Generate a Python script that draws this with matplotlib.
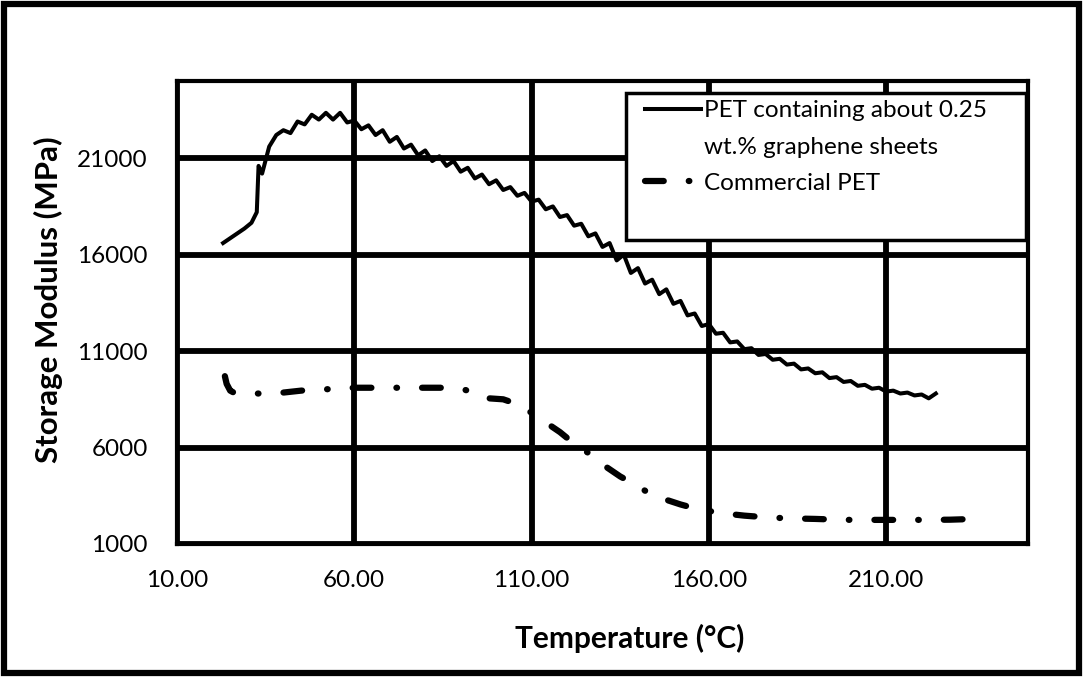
import matplotlib.pyplot as plt
from matplotlib.patches import Rectangle

plt.rcParams['font.family'] = ['Lato', 'DejaVu Sans']

# PET containing about 0.25 wt.% graphene sheets
temp_gr = [23, 25, 27, 29, 31, 32.5, 33, 34, 35, 36, 38, 40, 42, 44, 46, 48, 50,
           52, 54, 56, 58, 60, 62, 64, 66, 68, 70, 72, 74, 76, 78, 80, 82, 84,
           86, 88, 90, 92, 94, 96, 98, 100, 102, 104, 106, 108, 110, 112, 114,
           116, 118, 120, 122, 124, 126, 128, 130, 132, 134, 136, 138, 140, 142,
           144, 146, 148, 150, 152, 154, 156, 158, 160, 162, 164, 166, 168, 170,
           172, 174, 176, 178, 180, 182, 184, 186, 188, 190, 192, 194, 196, 198,
           200, 202, 204, 206, 208, 210, 212, 214, 216, 218, 220, 222, 224]
mod_gr = [16600, 16850, 17100, 17350, 17650, 18200, 20600, 20200, 20900, 21600,
          22200, 22450, 22300, 22900, 22750, 23250, 23000, 23350, 23000, 23350,
          22850, 22950, 22500, 22700, 22200, 22450, 21850, 22100, 21500, 21700,
          21150, 21400, 20850, 21100, 20600, 20850, 20300, 20500, 19950, 20150,
          19650, 19850, 19350, 19500, 19050, 19200, 18750, 18850, 18350, 18500,
          17950, 18050, 17500, 17600, 16950, 17100, 16400, 16600, 15700, 16000,
          15050, 15300, 14500, 14700, 13950, 14200, 13450, 13600, 12850, 12950,
          12300, 12400, 11900, 11950, 11450, 11500, 11100, 11150, 10800, 10850,
          10550, 10600, 10300, 10350, 10050, 10100, 9850, 9900, 9600, 9650,
          9400, 9450, 9200, 9250, 9050, 9100, 8900, 8950, 8800, 8850,
          8700, 8750, 8550, 8800]

# Commercial PET
temp_pet = [23.5, 24, 25, 26, 30, 35, 40, 45, 50, 55, 60, 65, 70, 75, 80, 85, 90,
            95, 98, 102, 106, 110, 114, 118, 122, 127, 131, 135, 139, 143, 147,
            152, 156, 161, 165, 170, 175, 180, 185, 190, 195, 200, 210, 220, 228, 235]
mod_pet = [9700, 9300, 8950, 8850, 8800, 8800, 8850, 8950, 9000, 9050, 9100, 9100,
           9100, 9100, 9100, 9100, 9050, 8800, 8550, 8500, 8250, 7800, 7300, 6800,
           6200, 5600, 5000, 4500, 4100, 3650, 3350, 3050, 2850, 2680, 2570, 2470,
           2400, 2350, 2320, 2300, 2270, 2250, 2250, 2250, 2260, 2300]

x_ticks = [10, 60, 110, 160, 210]
y_ticks = [1000, 6000, 11000, 16000, 21000]

fig = plt.figure(figsize=(10.83, 6.77), dpi=100)
ax = fig.add_axes([177/1083, 1 - 544/677, (1028 - 177)/1083, (544 - 81)/677])

ax.plot(temp_gr, mod_gr, color='black', linewidth=2.9, zorder=3,
        label='PET containing about 0.25')
ax.plot([], [], color='none', label='wt.% graphene sheets')
ax.plot(temp_pet, mod_pet, color='black', linewidth=4.5, zorder=3,
        linestyle=(0, (3, 4, 0.1, 4)), dash_capstyle='round',
        label='Commercial PET')

ax.set_xlim(10, 250)
ax.set_ylim(1000, 25000)
ax.set_xticks(x_ticks)
ax.set_xticklabels(['%.2f' % v for v in x_ticks])
ax.set_yticks(y_ticks)
ax.grid(True, color='black', linewidth=4.2)
ax.set_axisbelow(True)
for s in ax.spines.values():
    s.set_linewidth(3)
    s.set_color('black')
ax.tick_params(axis='x', length=0, pad=19, labelsize=17.5)
ax.tick_params(axis='y', length=0, pad=21, labelsize=17.5)

# legend box
ax.add_patch(Rectangle((0.528, 0.657), 0.47, 0.317, transform=ax.transAxes,
                       facecolor='white', edgecolor='black', linewidth=2.5, zorder=4))
leg = ax.legend(loc='upper left', bbox_to_anchor=(0.527, 1.0), frameon=False,
                fontsize=17.5, handlelength=2.3, handletextpad=0.15,
                labelspacing=0.62, borderpad=0.3)
leg.set_zorder(5)

fig.text(630/1083, 1 - 638/677, 'Temperature (°C)', fontsize=21.5, fontweight='bold',
         ha='center', va='center')
fig.text(48/1083, 1 - 300/677, 'Storage Modulus (MPa)', fontsize=22.5, fontweight='bold',
         ha='center', va='center', rotation=90)

fig.patches.append(Rectangle((4/1083, 4/677), 1075/1083, 669/677, transform=fig.transFigure,
                             fill=False, edgecolor='black', linewidth=4.5))

plt.savefig('out.png')
